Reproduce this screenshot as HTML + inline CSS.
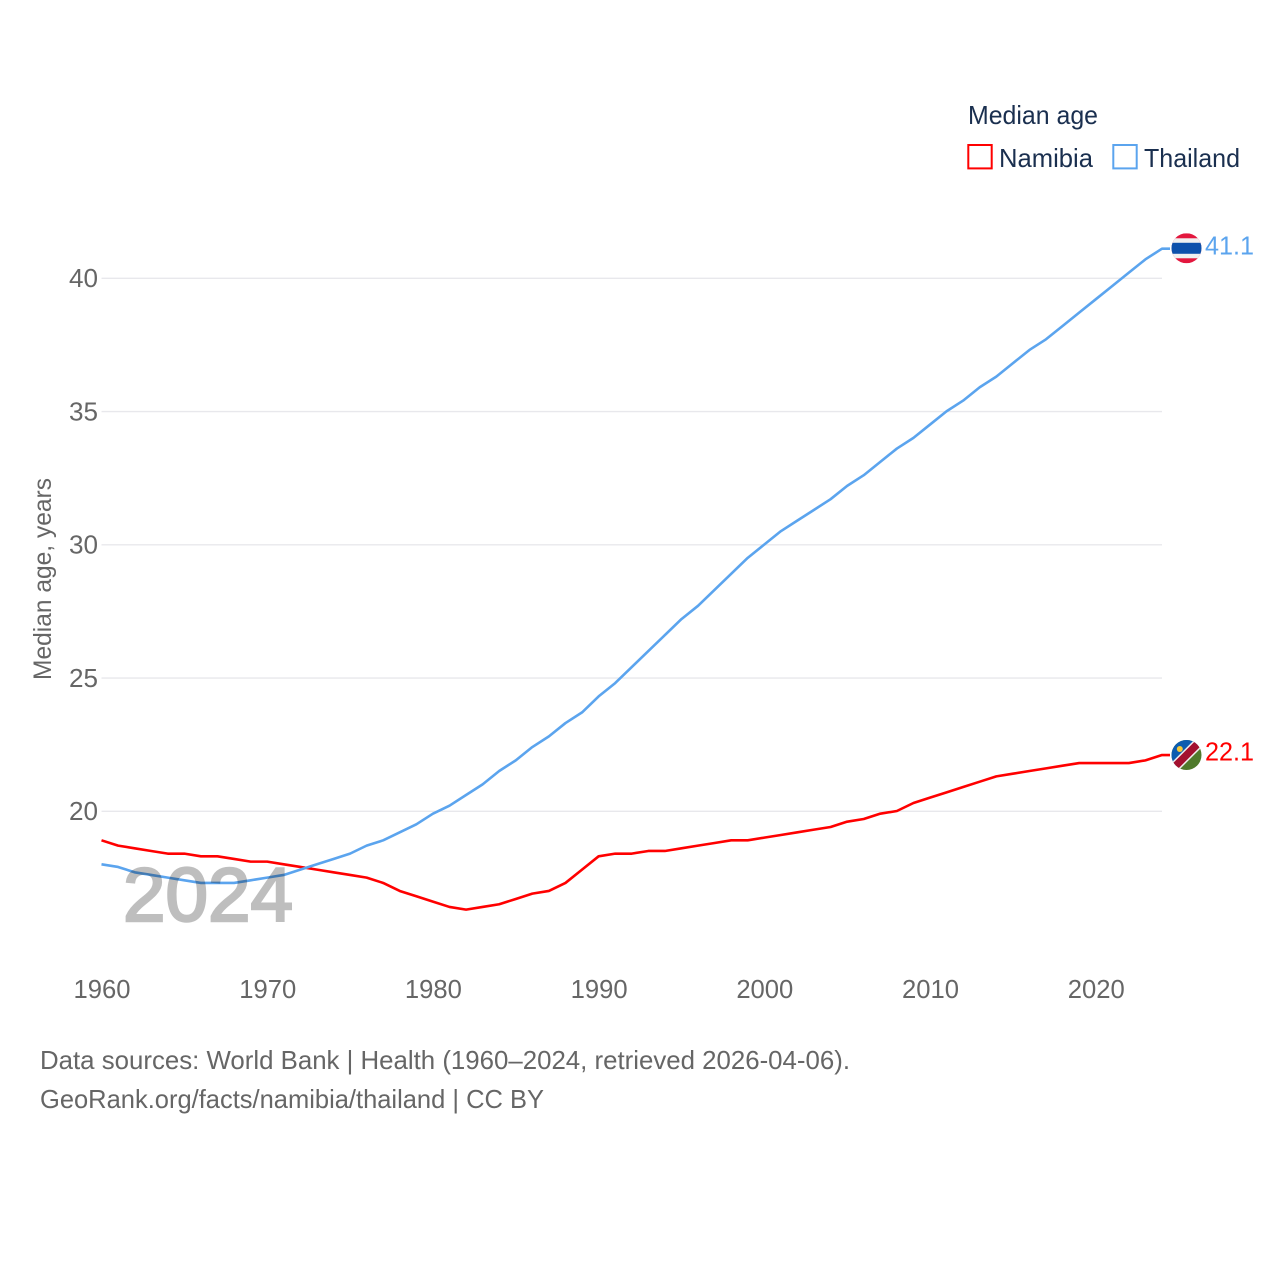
<!DOCTYPE html>
<html lang="en">
<head>
<meta charset="utf-8">
<title>Median age: Namibia and Thailand</title>
<style>
html,body{margin:0;padding:0;background:#fff;width:1280px;height:1280px;overflow:hidden}
svg{display:block}
text{font-family:"Liberation Sans",sans-serif}
</style>
</head>
<body>
<svg id="chart" xmlns="http://www.w3.org/2000/svg" width="1280" height="1280" viewBox="0 0 1280 1280">
  <g id="grid"></g>
  <g id="y-ticks"></g>
  <g id="x-ticks"></g>
  <text transform="translate(51,579) rotate(-90)" text-anchor="middle" font-size="25" fill="#666" textLength="202" lengthAdjust="spacingAndGlyphs">Median age, years</text>
  <g id="series"></g>
  <text x="123" y="921" font-size="76" font-weight="normal" fill="#000" stroke="#000" stroke-width="2.5" opacity="0.25" textLength="170" lengthAdjust="spacingAndGlyphs">2024</text>

  <g>
    <text x="968" y="124" font-size="26" fill="#1a2f4f" textLength="130" lengthAdjust="spacingAndGlyphs">Median age</text>
    <rect x="968.3" y="145" width="23.4" height="23.4" fill="#fff" stroke="#ff0000" stroke-width="2"/>
    <text x="999" y="167" font-size="26" fill="#1a2f4f" textLength="94" lengthAdjust="spacingAndGlyphs">Namibia</text>
    <rect x="1113.3" y="145" width="23.4" height="23.4" fill="#fff" stroke="#5ba4ee" stroke-width="2"/>
    <text x="1144" y="167" font-size="26" fill="#1a2f4f" textLength="96" lengthAdjust="spacingAndGlyphs">Thailand</text>
  </g>

  <defs>
    <clipPath id="clip-th"><circle cx="0" cy="0" r="15"/></clipPath>
    <clipPath id="clip-na"><circle cx="0" cy="0" r="15"/></clipPath>
  </defs>
  <g id="flag-th">
    <g clip-path="url(#clip-th)">
      <rect x="-15" y="-15" width="30" height="30" fill="#e3173e"/>
      <rect x="-15" y="-10" width="30" height="20" fill="#f0f0f0"/>
      <rect x="-15" y="-5.5" width="30" height="11" fill="#0d50ab"/>
    </g>
  </g>
  <g id="flag-na">
    <g clip-path="url(#clip-na)">
      <rect x="-15" y="-15" width="30" height="30" fill="#4f7a2c"/>
      <polygon points="-15,-15 15,-15 -15,15" fill="#0c5cb0"/>
      <line x1="-16" y1="16" x2="16" y2="-16" stroke="#f0f0f0" stroke-width="10.5"/>
      <line x1="-16" y1="16" x2="16" y2="-16" stroke="#a3102f" stroke-width="7.5"/>
      <circle cx="-6.7" cy="-6" r="3" fill="#f5c93a"/>
    </g>
  </g>
  <text id="label-th" x="1205" font-size="26" fill="#5ba4ee" textLength="49" lengthAdjust="spacingAndGlyphs"></text>
  <text id="label-na" x="1205" font-size="26" fill="#ff0000" textLength="49" lengthAdjust="spacingAndGlyphs"></text>

  <text x="40" y="1069" font-size="26" fill="#666" textLength="810" lengthAdjust="spacingAndGlyphs">Data sources: World Bank | Health (1960–2024, retrieved 2026-04-06).</text>
  <text x="40" y="1108" font-size="26" fill="#666" textLength="504" lengthAdjust="spacingAndGlyphs">GeoRank.org/facts/namibia/thailand | CC BY</text>
</svg>
<script>
const years = [1960,1961,1962,1963,1964,1965,1966,1967,1968,1969,1970,1971,1972,1973,1974,1975,1976,1977,1978,1979,1980,1981,1982,1983,1984,1985,1986,1987,1988,1989,1990,1991,1992,1993,1994,1995,1996,1997,1998,1999,2000,2001,2002,2003,2004,2005,2006,2007,2008,2009,2010,2011,2012,2013,2014,2015,2016,2017,2018,2019,2020,2021,2022,2023,2024];
const namibia = [18.9,18.7,18.6,18.5,18.4,18.4,18.3,18.3,18.2,18.1,18.1,18.0,17.9,17.8,17.7,17.6,17.5,17.3,17.0,16.8,16.6,16.4,16.3,16.4,16.5,16.7,16.9,17.0,17.3,17.8,18.3,18.4,18.4,18.5,18.5,18.6,18.7,18.8,18.9,18.9,19.0,19.1,19.2,19.3,19.4,19.6,19.7,19.9,20.0,20.3,20.5,20.7,20.9,21.1,21.3,21.4,21.5,21.6,21.7,21.8,21.8,21.8,21.8,21.9,22.1];
const thailand = [18.0,17.9,17.7,17.6,17.5,17.4,17.3,17.3,17.3,17.4,17.5,17.6,17.8,18.0,18.2,18.4,18.7,18.9,19.2,19.5,19.9,20.2,20.6,21.0,21.5,21.9,22.4,22.8,23.3,23.7,24.3,24.8,25.4,26.0,26.6,27.2,27.7,28.3,28.9,29.5,30.0,30.5,30.9,31.3,31.7,32.2,32.6,33.1,33.6,34.0,34.5,35.0,35.4,35.9,36.3,36.8,37.3,37.7,38.2,38.7,39.2,39.7,40.2,40.7,41.1];
const yTickValues = [20,25,30,35,40];
const xTickValues = [1960,1970,1980,1990,2000,2010,2020];

const NS = 'http://www.w3.org/2000/svg';
function xScale(year){ return 101.5 + (year - 1960) * (1162 - 101.5) / 64; }
function yScale(v){ return 811 - (v - 20) * (811 - 278) / 20; }

const grid = document.getElementById('grid');
const yTicks = document.getElementById('y-ticks');
const xTicks = document.getElementById('x-ticks');
const seriesGroup = document.getElementById('series');

yTickValues.forEach(function(v){
  const line = document.createElementNS(NS, 'line');
  
  
  line.setAttribute('x1', 101.5);
  line.setAttribute('x2', 1162);
  line.setAttribute('y1', yScale(v) + 0.3);
  line.setAttribute('y2', yScale(v) + 0.3);
  line.setAttribute('stroke', '#e8e8ec');
  line.setAttribute('stroke-width', 1.3);
  grid.appendChild(line);

  const t = document.createElementNS(NS, 'text');
  
  
  t.setAttribute('x', 69);
  t.setAttribute('y', yScale(v) + 9);
  t.setAttribute('font-size', 26);
  t.setAttribute('fill', '#666');
  t.setAttribute('textLength', 29);
  t.setAttribute('lengthAdjust', 'spacingAndGlyphs');
  t.textContent = v;
  yTicks.appendChild(t);
});

xTickValues.forEach(function(v){
  const t = document.createElementNS(NS, 'text');
  
  
  t.setAttribute('x', xScale(v) - 28);
  t.setAttribute('y', 998);
  t.setAttribute('font-size', 26);
  t.setAttribute('fill', '#666');
  t.setAttribute('textLength', 57);
  t.setAttribute('lengthAdjust', 'spacingAndGlyphs');
  t.textContent = v;
  xTicks.appendChild(t);
});

function seriesPoints(values){
  const pts = values.map(function(v, i){ return xScale(years[i]).toFixed(2) + ',' + yScale(v).toFixed(2); });
  const last = values[values.length - 1];
  pts.push((xScale(years[years.length - 1]) + 8).toFixed(2) + ',' + yScale(last).toFixed(2));
  return pts.join(' ');
}

const lineNamibia = document.createElementNS(NS, 'polyline');


lineNamibia.setAttribute('points', seriesPoints(namibia));
lineNamibia.setAttribute('fill', 'none');
lineNamibia.setAttribute('stroke', '#ff0000');
lineNamibia.setAttribute('stroke-width', 2.6);
lineNamibia.setAttribute('stroke-linejoin', 'round');
seriesGroup.appendChild(lineNamibia);

const lineThailand = document.createElementNS(NS, 'polyline');


lineThailand.setAttribute('points', seriesPoints(thailand));
lineThailand.setAttribute('fill', 'none');
lineThailand.setAttribute('stroke', '#5ba4ee');
lineThailand.setAttribute('stroke-width', 2.6);
lineThailand.setAttribute('stroke-linejoin', 'round');
seriesGroup.appendChild(lineThailand);

const lastTh = thailand[thailand.length - 1];
const lastNa = namibia[namibia.length - 1];
document.getElementById('flag-th').setAttribute('transform', 'translate(1186.5,' + (yScale(lastTh) - 0.4) + ')');
document.getElementById('flag-na').setAttribute('transform', 'translate(1186.5,' + yScale(lastNa) + ')');
const labelTh = document.getElementById('label-th');
labelTh.setAttribute('y', yScale(lastTh) + 5.7);
labelTh.textContent = lastTh.toFixed(1);
const labelNa = document.getElementById('label-na');
labelNa.setAttribute('y', yScale(lastNa) + 5.7);
labelNa.textContent = lastNa.toFixed(1);
</script>
</body>
</html>
